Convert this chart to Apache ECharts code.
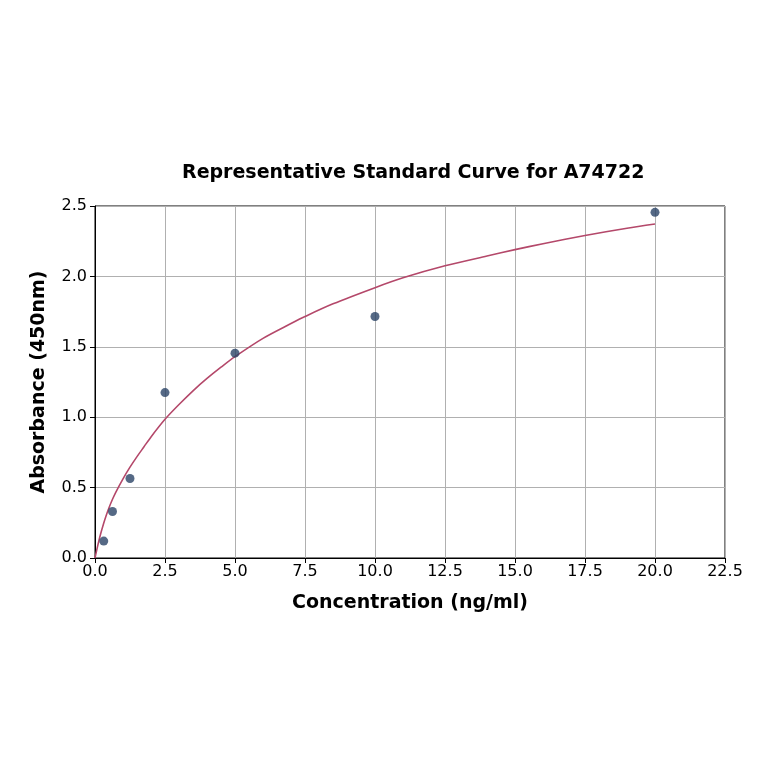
<!DOCTYPE html>
<html>
<head>
<meta charset="utf-8">
<script src="https://cdn.jsdelivr.net/npm/echarts@6/dist/echarts.min.js"></script>
<style>
  html, body { margin: 0; padding: 0; background: #fff; }
  #container { width: 764px; height: 764px; }
</style>
</head>
<body>
<div id="container"></div>
<script>
// standard points
var concentration = [0.3125, 0.625, 1.25, 2.5, 5, 10, 20];
var absorbance = [0.12, 0.33, 0.565, 1.175, 1.455, 1.715, 2.455];

// fitted curve
var curveX = [0, 0.1, 0.2, 0.3, 0.4, 0.5, 0.625, 0.75, 1.0, 1.25, 1.5, 1.75, 2.0, 2.5, 3.0, 3.5, 4.0, 4.5,
  5, 6, 7, 7.5, 8.5, 10, 11, 12.5, 14, 15, 16, 17.5, 19, 20];
var curveY = [0, 0.09, 0.17, 0.24, 0.302, 0.357, 0.417, 0.47, 0.5625, 0.645, 0.72, 0.79, 0.86, 0.985, 1.09, 1.1875, 1.275, 1.355,
  1.43, 1.56, 1.665, 1.715, 1.805, 1.92, 1.99, 2.075, 2.145, 2.19, 2.232, 2.29, 2.342, 2.372];

var xTicks = [0, 2.5, 5, 7.5, 10, 12.5, 15, 17.5, 20, 22.5];
var yTicks = [0, 0.5, 1.0, 1.5, 2.0, 2.5];

var font = 'DejaVu Sans';

var dom = document.getElementById('container');
var myChart = echarts.init(dom);

var points = concentration.map(function (c, i) { return [c, absorbance[i]]; });
var curve = curveX.map(function (c, i) { return [c, curveY[i]]; });

var option = {
  backgroundColor: '#fff',
  animation: false,
  title: {
    text: 'Representative Standard Curve for A74722',
    left: 177,
    top: 159,
    textStyle: { fontFamily: font, fontSize: 19, fontWeight: 'bold', color: '#000' }
  },
  grid: {
    left: 95,
    right: 39,
    top: 206,
    bottom: 206,
    show: true,
    borderColor: '#000',
    borderWidth: 1
  },
  xAxis: {
    type: 'value',
    min: xTicks[0],
    max: xTicks[xTicks.length - 1],
    interval: 2.5,
    name: 'Concentration (ng/ml)',
    nameLocation: 'middle',
    nameGap: 36,
    nameTextStyle: { fontFamily: font, fontSize: 19, fontWeight: 'bold', color: '#000' },
    axisLine: { show: true, lineStyle: { color: '#000', width: 1 } },
    axisTick: { show: true, length: 5, lineStyle: { color: '#000' } },
    axisLabel: {
      fontFamily: font, fontSize: 16, color: '#000', margin: 6,
      formatter: function (v) { return v.toFixed(1); }
    },
    splitLine: { show: true, lineStyle: { color: '#b0b0b0', width: 1 } }
  },
  yAxis: {
    type: 'value',
    min: yTicks[0],
    max: yTicks[yTicks.length - 1],
    interval: 0.5,
    name: 'Absorbance (450nm)',
    nameLocation: 'middle',
    nameGap: 46,
    nameTextStyle: { fontFamily: font, fontSize: 19, fontWeight: 'bold', color: '#000' },
    axisLine: { show: true, lineStyle: { color: '#000', width: 1 } },
    axisTick: { show: true, length: 5, lineStyle: { color: '#000' } },
    axisLabel: {
      fontFamily: font, fontSize: 16, color: '#000', margin: 8,
      formatter: function (v) { return v.toFixed(1); }
    },
    splitLine: { show: true, lineStyle: { color: '#b0b0b0', width: 1 } }
  },
  series: [
    {
      type: 'line',
      data: curve,
      smooth: 0.3,
      showSymbol: false,
      lineStyle: { color: '#b4486a', width: 1.6 },
      z: 2
    },
    {
      type: 'scatter',
      data: points,
      symbolSize: 9,
      itemStyle: { color: '#2a4466' },
      z: 3
    }
  ]
};
myChart.setOption(option, true);
</script>
</body>
</html>
